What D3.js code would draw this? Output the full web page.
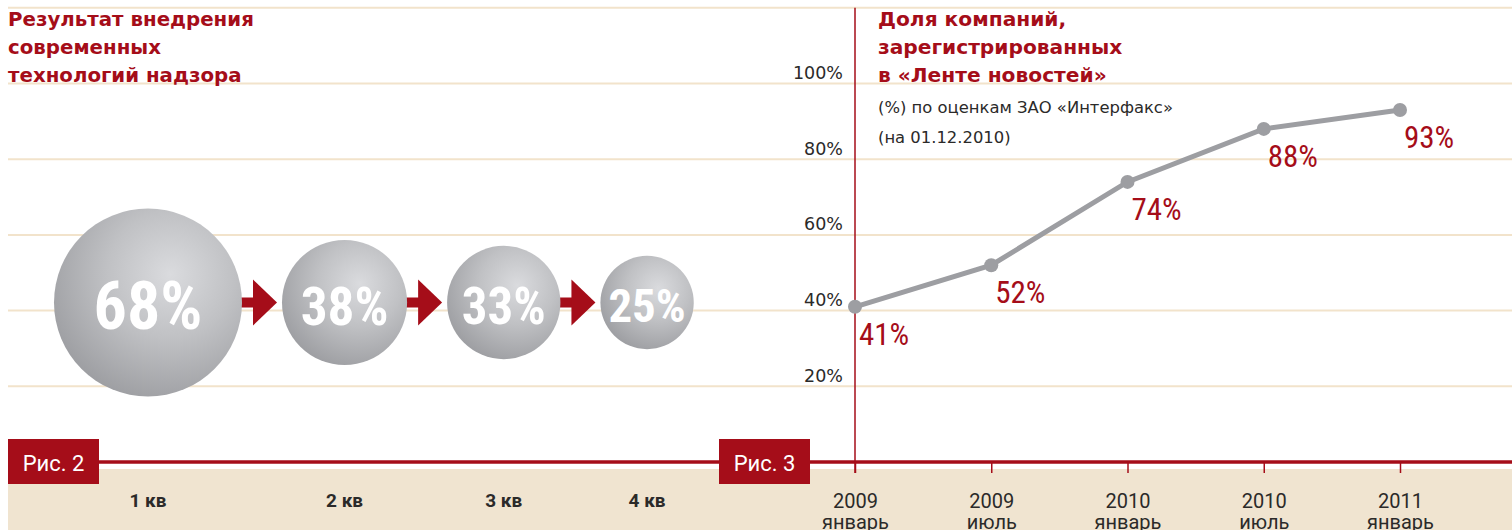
<!DOCTYPE html>
<html>
<head>
<meta charset="utf-8">
<script src="https://cdn.jsdelivr.net/npm/d3@7"></script>
<style>
  body { margin: 0; background: #fff; }
  svg { display: block; }
</style>
</head>
<body>
<div id="content"></div>
<script>
// рис. 2 — результат внедрения
const quarters = ['1 кв', '2 кв', '3 кв', '4 кв'];
const quarterValues = [68, 38, 33, 25];

// рис. 3 — доля компаний
const periodYears = ['2009', '2009', '2010', '2010', '2011'];
const periodMonths = ['январь', 'июль', 'январь', 'июль', 'январь'];
const shareValues = [41, 52, 74, 88, 93];
const yTicks = [20, 40, 60, 80, 100];

const leftTitle = ['Результат внедрения', 'современных', 'технологий надзора'];
const rightTitle = ['Доля компаний,', 'зарегистрированных', 'в «Ленте новостей»'];
const rightNote = ['(%) по оценкам ЗАО «Интерфакс»', '(на 01.12.2010)'];

const width = 1512;
const height = 530;
const red = '#a50d19';
const ink = '#2b2a29';
const grid = '#f2e3cb';
const beige = '#f0e4d0';
const narrow = '"Liberation Sans Narrow", "Roboto Condensed", Roboto, sans-serif';

const baseY = 462;
const svg = d3.select('#content')
              .append('svg')
              .attr('width', width)
              .attr('height', height);

const defs = svg.append('defs');
const grad = defs.append('radialGradient')
                 .attr('id', 'ball')
                 .attr('cx', '62%').attr('cy', '35%')
                 .attr('fx', '62%').attr('fy', '35%')
                 .attr('r', '75%');
grad.append('stop').attr('offset', '0%').attr('stop-color', '#dadbde');
grad.append('stop').attr('offset', '45%').attr('stop-color', '#c0c1c4');
grad.append('stop').attr('offset', '100%').attr('stop-color', '#98999d');

const y = d3.scaleLinear()
            .domain([0, 100])
            .range([baseY, 83.5]);

const x = d3.scalePoint()
            .domain(d3.range(periodYears.length))
            .range([855, 1400]);

// grid
svg.append('g')
   .selectAll('line')
   .data(d3.range(20, 121, 20))
   .enter()
   .append('line')
   .attr('x1', 8).attr('x2', width)
   .attr('y1', d => y(d)).attr('y2', d => y(d))
   .attr('stroke', grid)
   .attr('stroke-width', 2);

// bottom band
svg.append('rect')
   .attr('x', 8).attr('y', baseY + 7)
   .attr('width', width - 8).attr('height', height - baseY - 7)
   .attr('fill', beige);

svg.append('line')
   .attr('x1', 8).attr('x2', width)
   .attr('y1', baseY).attr('y2', baseY)
   .attr('stroke', red).attr('stroke-width', 3.5);

// titles
function title(lines, x0, size) {
    svg.append('text')
       .attr('x', x0).attr('y', 26)
       .attr('fill', red)
       .style('font-family', '"DejaVu Sans", sans-serif')
       .style('font-weight', 'bold')
       .style('font-size', size + 'px')
       .selectAll('tspan')
       .data(lines)
       .enter()
       .append('tspan')
       .attr('x', x0)
       .attr('dy', (d, i) => i ? 28 : 0)
       .text(d => d);
}
title(leftTitle, 8, 19.8);
title(rightTitle, 878, 20.2);

svg.append('text')
   .attr('x', 878).attr('y', 113)
   .attr('fill', ink)
   .style('font-family', '"DejaVu Sans", sans-serif')
   .style('font-size', '16.4px')
   .selectAll('tspan')
   .data(rightNote)
   .enter()
   .append('tspan')
   .attr('x', 878)
   .attr('dy', (d, i) => i ? 30 : 0)
   .text(d => d);

// ---- рис. 2: шары
const r = d3.scalePow().exponent(0.7)
            .domain([0, d3.max(quarterValues)])
            .range([0, 94]);
const fontSize = d3.scaleLinear().domain([0, 94]).range([28, 66]);

const gap = 40;
const cy = 302.5;
let left = 54;
const balls = quarterValues.map((v, i) => {
    const rad = r(v);
    const b = { v: v, q: quarters[i], r: rad, cx: left + rad };
    left += rad * 2 + gap;
    return b;
});

const arrows = svg.append('g');
balls.slice(0, -1).forEach((b, i) => {
    const start = b.cx + b.r - 8;
    const apex = balls[i + 1].cx - balls[i + 1].r - 5;
    const base = apex - 24;
    arrows.append('line')
          .attr('x1', start).attr('x2', base + 2)
          .attr('y1', cy).attr('y2', cy)
          .attr('stroke', red).attr('stroke-width', 10)
          .attr('stroke-linecap', 'round');
    arrows.append('path')
          .attr('d', 'M' + base + ',' + (cy - 23) + 'L' + apex + ',' + cy + 'L' + base + ',' + (cy + 23) + 'Z')
          .attr('fill', red);
});

const ball = svg.append('g')
                .selectAll('g')
                .data(balls)
                .enter()
                .append('g');

ball.append('circle')
    .attr('cx', d => d.cx).attr('cy', cy)
    .attr('r', d => d.r)
    .attr('fill', 'url(#ball)');

ball.append('text')
    .attr('x', d => d.cx).attr('y', cy + 3)
    .attr('dy', '0.36em')
    .attr('text-anchor', 'middle')
    .attr('fill', '#fff')
    .style('font-family', narrow)
    .style('font-weight', 'bold')
    .style('font-size', d => fontSize(d.r) + 'px')
    .text(d => d.v + '%');

svg.append('g')
   .selectAll('text')
   .data(balls)
   .enter()
   .append('text')
   .attr('x', d => d.cx).attr('y', 507)
   .attr('text-anchor', 'middle')
   .attr('fill', ink)
   .style('font-family', 'Roboto, sans-serif')
   .style('font-weight', 'bold')
   .style('font-size', '19px')
   .text(d => d.q);

// ---- рис. 3: линия
svg.append('line')
   .attr('x1', x(0)).attr('x2', x(0))
   .attr('y1', y(120)).attr('y2', baseY + 11)
   .attr('stroke', red).attr('stroke-width', 1.5);

const yAxis = svg.append('g')
                 .attr('transform', 'translate(' + x(0) + ',0)')
                 .call(d3.axisLeft(y).tickValues(yTicks).tickSize(0).tickPadding(12)
                        .tickFormat(d => d + '%'));
yAxis.select('.domain').remove();
yAxis.selectAll('text')
     .attr('dy', -5)
     .attr('fill', ink)
     .style('font-family', '"DejaVu Sans", sans-serif')
     .style('font-size', '17.5px');

const xAxis = svg.append('g')
                 .attr('transform', 'translate(0,' + baseY + ')')
                 .call(d3.axisBottom(x).tickSize(11).tickFormat(''));
xAxis.select('.domain').remove();
xAxis.selectAll('.tick line').attr('stroke', red).attr('stroke-width', 1.5);
const tickText = xAxis.selectAll('.tick')
                      .append('text')
                      .attr('text-anchor', 'middle')
                      .attr('fill', ink)
                      .style('font-family', 'Roboto, sans-serif')
                      .style('font-size', '20px');
tickText.append('tspan').attr('x', 0).attr('y', 46).text(d => periodYears[d]);
tickText.append('tspan').attr('x', 0).attr('y', 67).text(d => periodMonths[d]);

const line = d3.line()
               .x((d, i) => x(i))
               .y(d => y(d));

svg.append('path')
   .datum(shareValues)
   .attr('d', line)
   .attr('fill', 'none')
   .attr('stroke', '#9d9ea2')
   .attr('stroke-width', 5);

svg.append('g')
   .selectAll('circle')
   .data(shareValues)
   .enter()
   .append('circle')
   .attr('cx', (d, i) => x(i))
   .attr('cy', d => y(d))
   .attr('r', 7)
   .attr('fill', '#9d9ea2');

svg.append('g')
   .selectAll('text')
   .data(shareValues)
   .enter()
   .append('text')
   .attr('x', (d, i) => x(i) + 4)
   .attr('y', d => y(d) + 38)
   .attr('fill', red)
   .style('font-family', narrow)
   .style('font-size', '31px')
   .text(d => d + '%');

// рис. boxes
const boxes = svg.append('g')
                 .selectAll('g')
                 .data(['Рис. 2', 'Рис. 3'])
                 .enter()
                 .append('g')
                 .attr('transform', (d, i) => 'translate(' + (i ? 719 : 8) + ',439)');
boxes.append('rect')
     .attr('width', 91).attr('height', 45)
     .attr('fill', red);
boxes.append('text')
     .attr('x', 45.5).attr('y', 32)
     .attr('text-anchor', 'middle')
     .attr('fill', '#fff')
     .style('font-family', 'Roboto, sans-serif')
     .style('font-size', '22px')
     .text(d => d);
</script>
</body>
</html>
